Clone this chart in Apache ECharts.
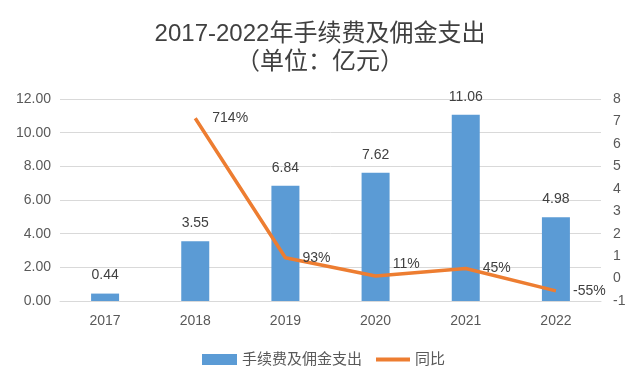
<!DOCTYPE html>
<html><head><meta charset="utf-8">
<script src="https://cdn.jsdelivr.net/npm/echarts@6/dist/echarts.min.js"></script>
<style>html,body{margin:0;padding:0;background:#fff}#c{width:640px;height:385px}</style>
</head><body><div id="c"></div>
<script>
const categories = ['2017','2018','2019','2020','2021','2022'];
const expense = [0.44, 3.55, 6.84, 7.62, 11.06, 4.98];
const yoy = [null, 7.14, 0.93, 0.11, 0.45, -0.55];
const yoyLabels = ['', '714%', '93%', '11%', '45%', '-55%'];
const leftTicks = [0, 2, 4, 6, 8, 10, 12];
const rightTicks = [-1, 0, 1, 2, 3, 4, 5, 6, 7, 8];

const font = '"Liberation Sans","Noto Sans CJK SC",sans-serif';
const chart = echarts.init(document.getElementById('c'));
chart.setOption({
  animation: false,
  textStyle: {fontFamily: font},
  title: [
    {text: '2017-2022年手续费及佣金支出', left: 'center', top: 17,
     textStyle: {fontSize: 24, fontWeight: 'normal', color: '#404040', fontFamily: font}},
    {text: '（单位：亿元）', left: 'center', top: 45,
     textStyle: {fontSize: 24, fontWeight: 'normal', color: '#404040', fontFamily: font}}
  ],
  legend: [
    {left: 197, top: 347, itemGap: 6, itemWidth: 35, itemHeight: 11,
     textStyle: {fontSize: 15, color: '#595959', fontFamily: font},
     data: [{name: '手续费及佣金支出', icon: 'rect'}]},
    {left: 371, top: 347, itemGap: 6, itemWidth: 34, itemHeight: 4,
     textStyle: {fontSize: 15, color: '#595959', fontFamily: font},
     data: [{name: '同比', icon: 'rect'}]}
  ],
  grid: {left: 60, right: 39, top: 99, bottom: 84},
  xAxis: {
    type: 'category', data: categories,
    axisTick: {show: false},
    axisLine: {lineStyle: {color: '#d9d9d9'}},
    axisLabel: {color: '#595959', fontSize: 14, margin: 13}
  },
  yAxis: [
    {type: 'value', min: leftTicks[0], max: leftTicks[leftTicks.length-1], interval: 2,
     axisLabel: {color: '#595959', fontSize: 14, margin: 9, formatter: v => v.toFixed(2)},
     splitLine: {lineStyle: {color: '#d9d9d9'}}, axisLine: {show: false}, axisTick: {show: false}},
    {type: 'value', min: rightTicks[0], max: rightTicks[rightTicks.length-1], interval: 1,
     axisLabel: {color: '#595959', fontSize: 14, margin: 12},
     splitLine: {show: false}, axisLine: {show: false}, axisTick: {show: false}}
  ],
  series: [
    {name: '手续费及佣金支出', type: 'bar', data: expense, barWidth: 28,
     itemStyle: {color: '#5B9BD5'},
     label: {show: true, position: 'top', distance: 11, color: '#404040', fontSize: 14,
             formatter: p => p.value.toFixed(2)}},
    {name: '同比', type: 'line', yAxisIndex: 1,
     data: yoy.map((v, i) => i === 3 ? {value: v, label: {offset: [0, -12]}} : v),
     symbol: 'circle', symbolSize: 0.1, showSymbol: true,
     lineStyle: {color: '#ED7D31', width: 3.5}, itemStyle: {color: '#ED7D31'},
     label: {show: true, position: 'right', distance: 17, color: '#404040', fontSize: 14,
             formatter: p => yoyLabels[p.dataIndex]}}
  ]
});
</script></body></html>
